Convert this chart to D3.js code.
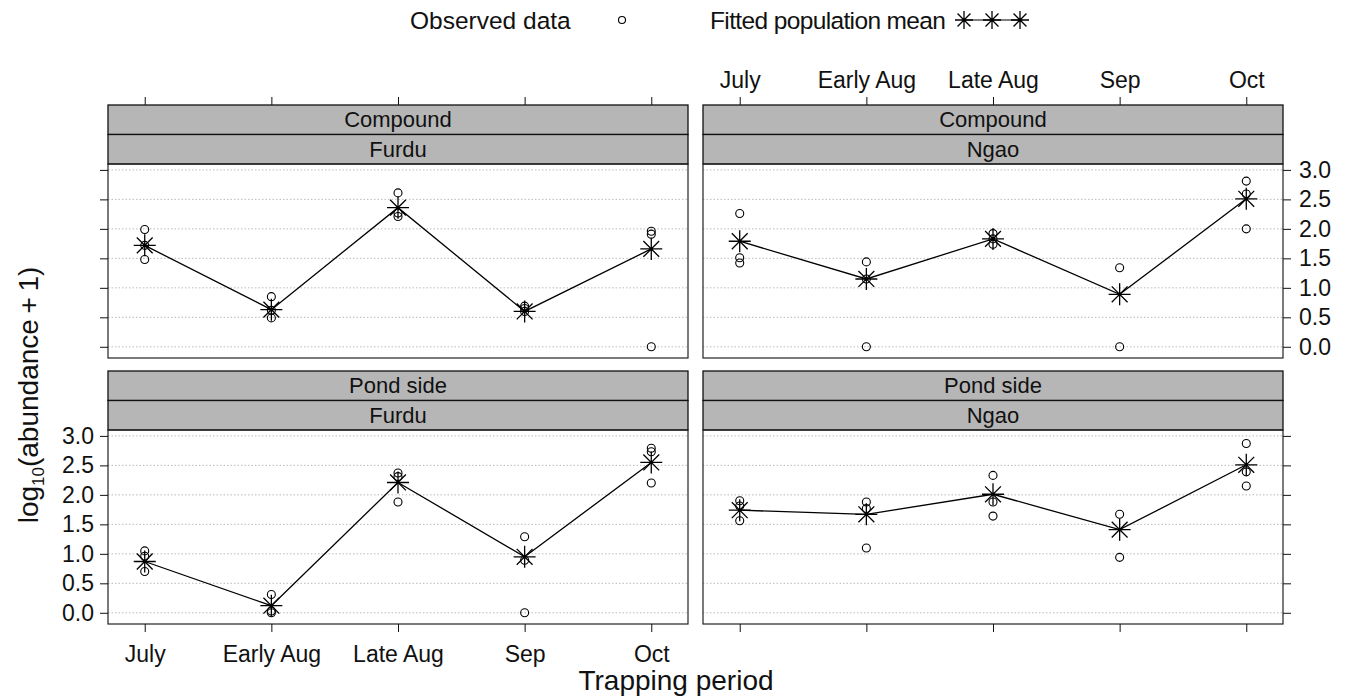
<!DOCTYPE html>
<html><head><meta charset="utf-8">
<script src="https://cdn.jsdelivr.net/npm/d3@7"></script>
<style>
body{margin:0;background:#fff}
text{font-family:"Liberation Sans",Arial,Helvetica,sans-serif;fill:#111}
</style>
</head><body>
<svg id="c" width="1349" height="698"></svg>
<script>
// ---------- data ----------
const periods = ["July", "Early Aug", "Late Aug", "Sep", "Oct"];
const yTicks = [0, 0.5, 1, 1.5, 2, 2.5, 3];
const yTickLabels = ["0.0", "0.5", "1.0", "1.5", "2.0", "2.5", "3.0"];
const stripOuter = ["Compound", "Compound", "Pond side", "Pond side"];
const stripInner = ["Furdu", "Ngao", "Furdu", "Ngao"];

const meanCompoundFurdu = [1.72, 0.63, 2.36, 0.60, 1.66];
const meanCompoundNgao  = [1.79, 1.15, 1.83, 0.89, 2.51];
const meanPondFurdu     = [0.87, 0.12, 2.21, 0.95, 2.55];
const meanPondNgao      = [1.74, 1.67, 2.01, 1.41, 2.51];

const obsCompoundFurdu = [[1.99, 1.72, 1.48], [0.85, 0.62, 0.49], [2.61, 2.27, 2.21], [0.69, 0.65, 0.60], [1.96, 1.91, 0.0]];
const obsCompoundNgao  = [[2.26, 1.51, 1.42], [1.44, 1.15, 0.0], [1.92, 1.83, 1.74], [1.34, 0.0], [2.81, 2.59, 2.0]];
const obsPondFurdu     = [[1.05, 0.96, 0.70], [0.31, 0.03, 0.0], [2.37, 2.31, 1.88], [1.29, 0.89, 0.0], [2.79, 2.73, 2.20]];
const obsPondNgao      = [[1.90, 1.81, 1.56], [1.88, 1.77, 1.10], [2.33, 1.88, 1.64], [1.67, 0.94], [2.87, 2.39, 2.15]];

const means = [meanCompoundFurdu, meanCompoundNgao, meanPondFurdu, meanPondNgao];
const observed = [obsCompoundFurdu, obsCompoundNgao, obsPondFurdu, obsPondNgao];

// ---------- layout ----------
const svg = d3.select("#c");
const colX = [108, 703], pw = 580;
const stripTop = [105, 371], stripH = 29.5, ph = 194;
const yDomain = [-0.19, 3.1];

function star(g, cx, cy, r) {
  const d = r * 0.72;
  const p = `M${cx - r},${cy}H${cx + r}M${cx},${cy - r}V${cy + r}` +
            `M${cx - d},${cy - d}L${cx + d},${cy + d}M${cx - d},${cy + d}L${cx + d},${cy - d}`;
  g.append("path").attr("d", p).attr("stroke", "#000").attr("stroke-width", 1.3).attr("fill", "none");
}

for (let i = 0; i < 4; i++) {
  const row = Math.floor(i / 2), col = i % 2;
  const x0 = colX[col], s0 = stripTop[row];
  const top = s0 + 2 * stripH, bottom = top + ph;
  const x = d3.scalePoint().domain(periods).range([x0, x0 + pw]).padding(0.29);
  const y = d3.scaleLinear().domain(yDomain).range([bottom, top]);
  const g = svg.append("g");

  // strips
  [stripOuter[i], stripInner[i]].forEach((t, k) => {
    g.append("rect").attr("x", x0).attr("y", s0 + k * stripH).attr("width", pw).attr("height", stripH)
      .attr("fill", "#b6b6b6").attr("stroke", "#111").attr("stroke-width", 1.3);
    g.append("text").attr("x", x0 + pw / 2).attr("y", s0 + k * stripH + stripH / 2 + 7.5)
      .attr("text-anchor", "middle").attr("font-size", 22).text(t);
  });

  // grid
  g.selectAll(".grid").data(yTicks).enter().append("line")
    .attr("x1", x0).attr("x2", x0 + pw).attr("y1", d => y(d)).attr("y2", d => y(d))
    .attr("stroke", "#aaa").attr("stroke-width", 0.8).attr("stroke-dasharray", "1.5,2");

  // frame
  g.append("rect").attr("x", x0).attr("y", top).attr("width", pw).attr("height", ph)
    .attr("fill", "none").attr("stroke", "#222").attr("stroke-width", 1.2);

  // y axis
  const yAxisG = g.append("g");
  if (col === 0) {
    const ax = d3.axisLeft(y).tickValues(yTicks).tickSize(8).tickPadding(6)
      .tickFormat((d, j) => row === 1 ? yTickLabels[j] : "");
    yAxisG.attr("transform", `translate(${x0},0)`).call(ax);
  } else {
    const ax = d3.axisRight(y).tickValues(yTicks).tickSize(8).tickPadding(8)
      .tickFormat((d, j) => row === 0 ? yTickLabels[j] : "");
    yAxisG.attr("transform", `translate(${x0 + pw},0)`).call(ax);
  }
  yAxisG.select(".domain").remove();
  yAxisG.selectAll("text").attr("font-size", 23).attr("fill", "#111");
  yAxisG.selectAll("line").attr("stroke", "#111");

  // x axis
  const xAxisG = g.append("g");
  if (row === 0) {
    const ax = d3.axisTop(x).tickSize(8).tickPadding(9).tickFormat(d => col === 1 ? d : "");
    xAxisG.attr("transform", `translate(0,${s0})`).call(ax);
  } else {
    const ax = d3.axisBottom(x).tickSize(8).tickPadding(14).tickFormat(d => col === 0 ? d : "");
    xAxisG.attr("transform", `translate(0,${bottom})`).call(ax);
  }
  xAxisG.select(".domain").remove();
  xAxisG.selectAll("text").attr("font-size", 23).attr("fill", "#111");
  xAxisG.selectAll("line").attr("stroke", "#111");

  // observed circles
  observed[i].forEach((vals, j) => {
    vals.forEach(v => {
      g.append("circle").attr("cx", x(periods[j])).attr("cy", y(v)).attr("r", 4)
        .attr("fill", "none").attr("stroke", "#000").attr("stroke-width", 1.1);
    });
  });

  // fitted mean line and stars
  const line = d3.line().x((d, j) => x(periods[j])).y(d => y(d));
  g.append("path").attr("d", line(means[i])).attr("fill", "none").attr("stroke", "#000").attr("stroke-width", 1.3);
  means[i].forEach((v, j) => star(g, x(periods[j]), y(v), 11));
}

// ---------- legend ----------
const lg = svg.append("g");
lg.append("text").attr("x", 410).attr("y", 29).attr("font-size", 24.5).text("Observed data");
lg.append("circle").attr("cx", 622).attr("cy", 20).attr("r", 3.5).attr("fill", "none").attr("stroke", "#000").attr("stroke-width", 1.1);
lg.append("text").attr("x", 710).attr("y", 29).attr("font-size", 24.5).attr("textLength", 236).text("Fitted population mean");
const legX = d3.scaleLinear().domain([0, 2]).range([964, 1020]);
lg.append("line").attr("x1", legX(0)).attr("x2", legX(2)).attr("y1", 20).attr("y2", 20).attr("stroke", "#000").attr("stroke-width", 1.2);
[0, 1, 2].forEach(k => star(lg, legX(k), 20, 9));

// ---------- axis titles ----------
svg.append("text").attr("x", 676).attr("y", 690).attr("text-anchor", "middle").attr("font-size", 28).text("Trapping period");
const yt = svg.append("text").attr("transform", "translate(38,395) rotate(-90)").attr("text-anchor", "middle").attr("font-size", 28);
yt.append("tspan").text("log");
yt.append("tspan").attr("font-size", 17).attr("dy", 6).text("10");
yt.append("tspan").attr("dy", -6).text("(abundance\u2009+\u20091)");
</script>
</body></html>
